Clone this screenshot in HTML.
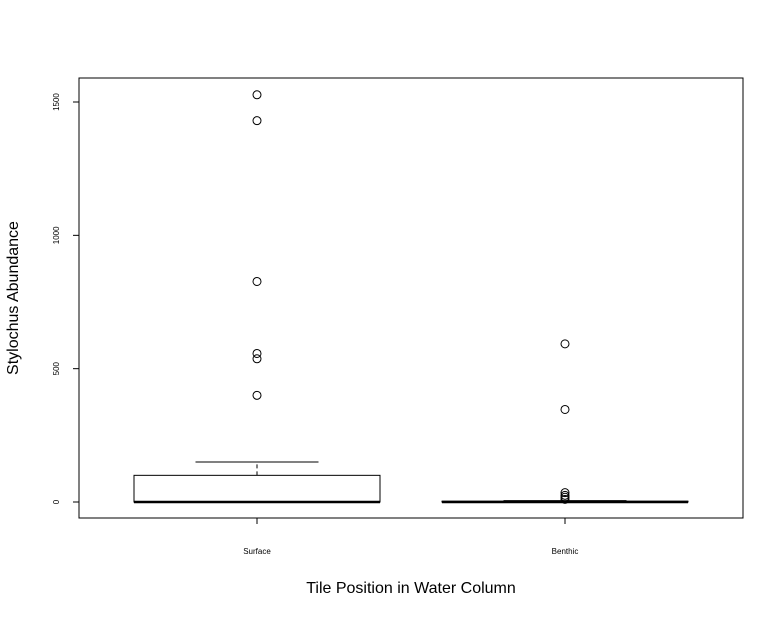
<!DOCTYPE html>
<html><head><meta charset="utf-8"><style>
body{margin:0;background:#fff;}
svg text{font-family:"Liberation Sans",Arial,sans-serif;}
</style></head><body>
<svg id="chart" width="784" height="617" xmlns="http://www.w3.org/2000/svg">
<rect x="79" y="78" width="664" height="440" fill="none" stroke="#000" stroke-width="1"/>
<g id="yaxis"></g>
<g id="xaxis"></g>
<g id="boxes"></g>
<text x="18" y="298" font-size="16" text-anchor="middle" transform="rotate(-90 18 298)">Stylochus Abundance</text>
<text x="411" y="593" font-size="16" text-anchor="middle">Tile Position in Water Column</text>
</svg>
<script>
const categories = ["Surface", "Benthic"];
const q1 = [0, 0];
const medians = [0, 0];
const q3 = [100, 3];
const whiskLo = [0, 0];
const whiskHi = [150, 5];
const outliersSurface = [1527, 1430, 827, 557, 537, 400];
const outliersBenthic = [593, 347, 35, 25, 18, 10];
const yTicks = [0, 500, 1000, 1500];

const NS = "http://www.w3.org/2000/svg";
const y = v => 502 - v * (133.33 / 500);
const xc = i => 257 + i * 308;
const halfW = 123;
function mk(tag, attrs, parent) {
  const e = document.createElementNS(NS, tag);
  for (const k in attrs) e.setAttribute(k, attrs[k]);
  parent.appendChild(e);
  return e;
}
const ya = document.getElementById('yaxis');
yTicks.forEach(t => {
  const l = mk('line', {x1: 73, x2: 79, y1: y(t), y2: y(t), stroke: '#000'}, ya);
  
  
  const tx = mk('text', {x: 57, y: y(t), 'font-size': 8, 'text-anchor': 'middle', transform: `rotate(-90 57 ${y(t)})`, 'dominant-baseline': 'middle'}, ya);
  tx.textContent = t;
  
  
});
const xa = document.getElementById('xaxis');
categories.forEach((c, i) => {
  const l = mk('line', {x1: xc(i), x2: xc(i), y1: 518, y2: 524, stroke: '#000'}, xa);
  
  
  const tx = mk('text', {x: xc(i), y: 554, 'font-size': 8, 'text-anchor': 'middle'}, xa);
  tx.textContent = c;
  
  
});
const bx = document.getElementById('boxes');
const outs = [outliersSurface, outliersBenthic];
categories.forEach((c, i) => {
  const cx = xc(i);
  const g = mk('g', {}, bx);
  
  
  mk('line', {x1: cx, x2: cx, y1: y(q3[i]), y2: y(whiskHi[i]), stroke: '#000', 'stroke-dasharray': '4,3'}, g);
  mk('line', {x1: cx - halfW / 2, x2: cx + halfW / 2, y1: y(whiskHi[i]), y2: y(whiskHi[i]), stroke: '#000'}, g);
  mk('line', {x1: cx - halfW / 2, x2: cx + halfW / 2, y1: y(whiskLo[i]), y2: y(whiskLo[i]), stroke: '#000'}, g);
  mk('rect', {x: cx - halfW, y: y(q3[i]), width: 2 * halfW, height: Math.max(0.1, y(q1[i]) - y(q3[i])), fill: '#fff', stroke: '#000'}, g);
  mk('line', {x1: cx - halfW, x2: cx + halfW, y1: y(medians[i]), y2: y(medians[i]), stroke: '#000', 'stroke-width': 2.5}, g);
  outs[i].forEach(v => {
    const p = mk('circle', {cx: cx, cy: y(v), r: 4, fill: 'none', stroke: '#000'}, g);
    
    
  });
});
</script>
</body></html>
